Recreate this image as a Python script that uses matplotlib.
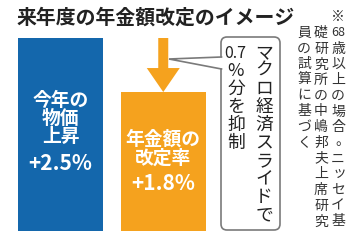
import matplotlib
matplotlib.use("Agg")
import matplotlib.pyplot as plt
from matplotlib.patches import FancyBboxPatch, FancyArrow, Polygon

plt.rcParams['font.family'] = ['Noto Sans CJK JP', 'DejaVu Sans']

# データ
titulo = "来年度の年金額改定のイメージ"
rotulos = [["今年の", "物価", "上昇"], ["年金額の", "改定率"]]
valores = [2.5, 1.8]
cores = ["#1467ac", "#f5a21e"]
texto_caixa = [["マ", "ク", "ロ", "経", "済", "ス", "ラ", "イ", "ド", "で"],
               ["0.7", "%", "分", "を", "抑", "制"]]
nota = [["※", "68", "歳", "以", "上", "の", "場", "合", "。", "ニ", "ッ", "セ", "イ", "基"],
        ["礎", "研", "究", "所", "の", "中", "嶋", "邦", "夫", "上", "席", "研", "究"],
        ["員", "の", "試", "算", "に", "基", "づ", "く"]]

fig = plt.figure(figsize=(3.6, 2.4), dpi=100)

# barras
ax = fig.add_axes([18 / 360, 9 / 240, 188 / 360, 193 / 240])
larg = 0.834
x = [0, 1]
ax.bar(x, valores, width=larg, color=cores)
ax.set_xlim(-larg / 2, 1 + larg / 2)
ax.set_ylim(0, max(valores))
ax.axis("off")

# seta de redução (2.5 -> 1.8)
pix_x = (1 + larg) / 188
pix_y = max(valores) / 193
queda = valores[0] - valores[1]
seta = FancyArrow(1, valores[0], 0, -queda, width=10 * pix_x, head_width=33 * pix_x,
                  head_length=24 * pix_y, length_includes_head=True,
                  color=cores[1], lw=0)
ax.add_patch(seta)

# camada de textos em pixels (por cima das barras)
ov = fig.add_axes([0, 0, 1, 1])
ov.set_xlim(0, 360)
ov.set_ylim(240, 0)
ov.axis("off")
ov.set_zorder(5)

# textos dentro das barras
linhas_y = [[100, 118, 136], [139, 158]]
cx = [60.5, 163]
for i in range(2):
    for txt, yy in zip(rotulos[i], linhas_y[i]):
        ov.text(cx[i], yy, txt, color="white", fontsize=13.5, fontweight="bold",
                ha="center", va="center")
ov.text(cx[0], 164, f"+{valores[0]}%", color="white", fontsize=15, fontweight="bold",
        ha="center", va="center")
ov.text(cx[1], 184, f"+{valores[1]}%", color="white", fontsize=15, fontweight="bold",
        ha="center", va="center")

# título
ov.text(17, 17, titulo, fontsize=14.3, fontweight="bold", color="#222222",
        ha="left", va="center")

# balão
caixa = FancyBboxPatch((221, 37), 59, 193, boxstyle="round,pad=0,rounding_size=6",
                       fc="white", ec="#7a7a7a", lw=1.2, zorder=3)
ov.add_patch(caixa)
ov.add_patch(Polygon([(222, 57.5), (169, 59), (222, 68.5)], closed=True,
                     fc="white", ec="none", zorder=4))
ov.plot([221.5, 169, 221.5], [57, 59, 69], color="#7a7a7a", lw=1.2, zorder=5,
        solid_joinstyle="miter")

def vertical(x0, y0, passo, itens, tam, cor, z=6):
    for k, ch in enumerate(itens):
        dx, dy = 0, 0
        if ch in "ッ":
            dx, dy = 1.5, -1.5
        if ch == "。":
            dx, dy = 4, -1.5
        ov.text(x0 + dx, y0 + k * passo + dy, ch, fontsize=tam, color=cor,
                ha="center", va="center", zorder=z)

vertical(264, 53, 18, texto_caixa[0], 12.8, "#222222")
ov.text(235, 53, texto_caixa[1][0], fontsize=11.5, color="#222222",
        ha="center", va="center", zorder=6)
vertical(236, 71, 18, texto_caixa[1][1:], 12.8, "#222222")

# nota
vertical(338, 17, 15.7, nota[0][:1], 10, "#333333")
ov.text(338, 33, nota[0][1], fontsize=9, color="#333333", ha="center", va="center")
vertical(338, 48.7, 15.7, nota[0][2:], 10, "#333333")
vertical(321, 33, 15.7, nota[1], 10, "#333333")
vertical(304, 33, 15.7, nota[2], 10, "#333333")

fig.savefig("out.png", dpi=100)
